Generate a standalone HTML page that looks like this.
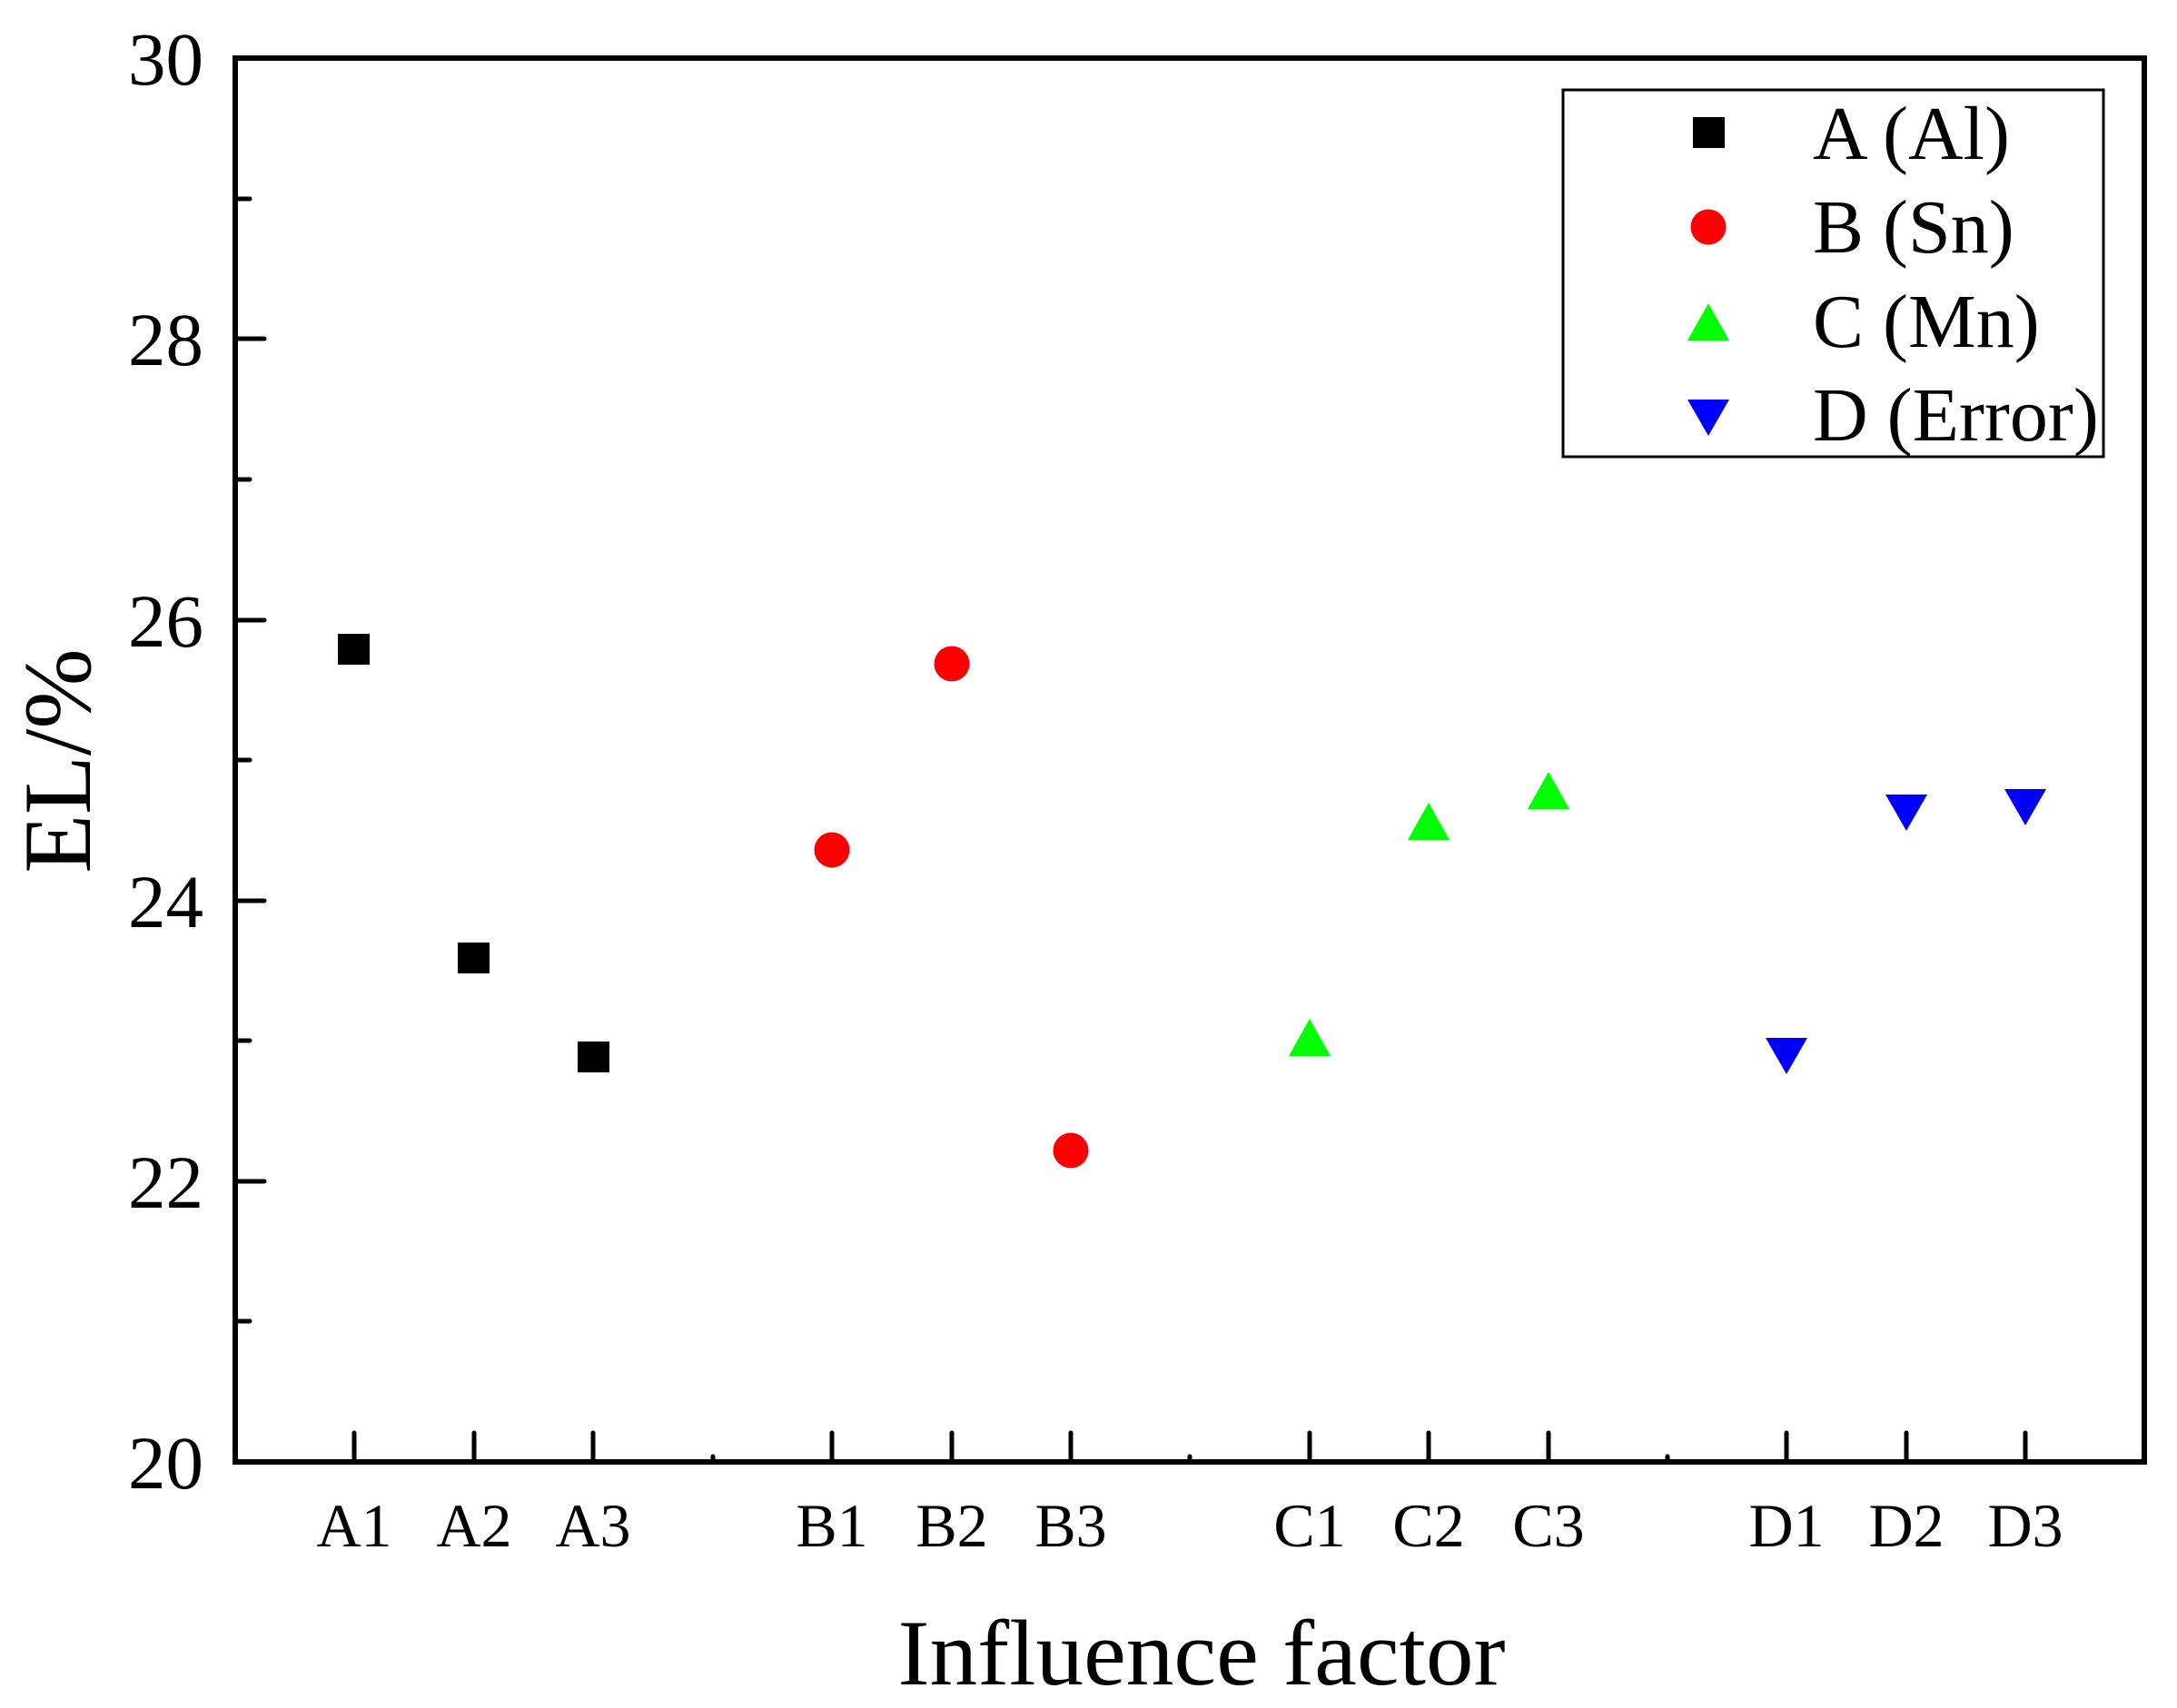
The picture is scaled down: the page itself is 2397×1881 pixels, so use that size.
<!DOCTYPE html>
<html><head><meta charset="utf-8"><style>html,body{margin:0;padding:0;background:#fff}svg{display:block}svg text{font-family:"Liberation Serif","Times New Roman",serif}</style></head>
<body>
<svg width="2397" height="1881" viewBox="0 0 2397 1881" xmlns="http://www.w3.org/2000/svg" font-family="Liberation Serif, serif">
<rect width="2397" height="1881" fill="#fff"/>
<g stroke="#000" stroke-width="5" stroke-linecap="round">
<line x1="259" y1="64" x2="291" y2="64"/>
<line x1="259" y1="219" x2="275" y2="219"/>
<line x1="259" y1="373" x2="291" y2="373"/>
<line x1="259" y1="528" x2="275" y2="528"/>
<line x1="259" y1="683" x2="291" y2="683"/>
<line x1="259" y1="837" x2="275" y2="837"/>
<line x1="259" y1="992" x2="291" y2="992"/>
<line x1="259" y1="1146" x2="275" y2="1146"/>
<line x1="259" y1="1301" x2="291" y2="1301"/>
<line x1="259" y1="1455" x2="275" y2="1455"/>
<line x1="390" y1="1610" x2="390" y2="1578"/>
<line x1="522" y1="1610" x2="522" y2="1578"/>
<line x1="653" y1="1610" x2="653" y2="1578"/>
<line x1="785" y1="1610" x2="785" y2="1604"/>
<line x1="916" y1="1610" x2="916" y2="1578"/>
<line x1="1048" y1="1610" x2="1048" y2="1578"/>
<line x1="1179" y1="1610" x2="1179" y2="1578"/>
<line x1="1310" y1="1610" x2="1310" y2="1604"/>
<line x1="1442" y1="1610" x2="1442" y2="1578"/>
<line x1="1573" y1="1610" x2="1573" y2="1578"/>
<line x1="1705" y1="1610" x2="1705" y2="1578"/>
<line x1="1836" y1="1610" x2="1836" y2="1604"/>
<line x1="1967" y1="1610" x2="1967" y2="1578"/>
<line x1="2099" y1="1610" x2="2099" y2="1578"/>
<line x1="2230" y1="1610" x2="2230" y2="1578"/>
</g>
<rect x="259" y="64" width="2102" height="1546" fill="none" stroke="#000" stroke-width="6"/>
<g font-size="83" text-anchor="end">
<text x="224" y="93">30</text>
<text x="224" y="402">28</text>
<text x="224" y="712">26</text>
<text x="224" y="1021">24</text>
<text x="224" y="1330">22</text>
<text x="224" y="1639">20</text>
</g>
<g font-size="68" text-anchor="middle">
<text x="390" y="1703">A1</text>
<text x="522" y="1703">A2</text>
<text x="653" y="1703">A3</text>
<text x="916" y="1703">B1</text>
<text x="1048" y="1703">B2</text>
<text x="1179" y="1703">B3</text>
<text x="1442" y="1703">C1</text>
<text x="1573" y="1703">C2</text>
<text x="1705" y="1703">C3</text>
<text x="1967" y="1703">D1</text>
<text x="2099" y="1703">D2</text>
<text x="2230" y="1703">D3</text>
</g>
<text x="1323" y="1855" font-size="103" text-anchor="middle" textLength="669" lengthAdjust="spacingAndGlyphs">Influence factor</text>
<text transform="translate(99,838) rotate(-90)" font-size="106" text-anchor="middle">EL/%</text>
<g fill="#000">
<rect x="372" y="698" width="35" height="34"/>
<rect x="504" y="1038" width="35" height="34"/>
<rect x="636" y="1147" width="35" height="34"/>
</g>
<g fill="#ff0000">
<circle cx="916" cy="936" r="19.5"/>
<circle cx="1048" cy="731" r="19.5"/>
<circle cx="1179" cy="1267" r="19.5"/>
</g>
<g fill="#00ff00">
<polygon points="1442,1122 1465,1163 1419,1163"/>
<polygon points="1573,884 1596,925 1550,925"/>
<polygon points="1705,850 1728,891 1682,891"/>
</g>
<g fill="#0000ff">
<polygon points="1944,1143 1990,1143 1967,1183"/>
<polygon points="2076,875 2122,875 2099,915"/>
<polygon points="2207,869 2253,869 2230,909"/>
</g>
<rect x="1721" y="99" width="595" height="404" fill="#fff" stroke="#000" stroke-width="3"/>
<rect x="1864" y="129" width="35" height="34" fill="#000"/>
<circle cx="1881" cy="250" r="19.5" fill="#ff0000"/>
<polygon points="1881,334 1904,375 1858,375" fill="#00ff00"/>
<polygon points="1858,440 1904,440 1881,480" fill="#0000ff"/>
<g font-size="84">
<text x="1996" y="175">A (Al)</text>
<text x="1996" y="278">B (Sn)</text>
<text x="1996" y="382">C (Mn)</text>
<text x="1996" y="485">D (Error)</text>
</g>
</svg>
</body></html>
